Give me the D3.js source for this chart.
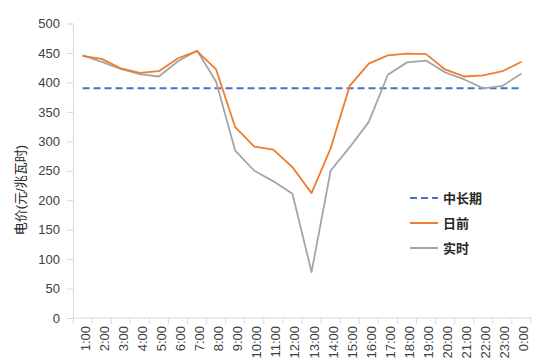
<!DOCTYPE html>
<html>
<head>
<meta charset="utf-8">
<script src="https://cdn.jsdelivr.net/npm/d3@7"></script>
<style>
  body { margin: 0; background: #fff; }
  svg { display: block; font-family: "Liberation Sans", Arial, "Noto Sans CJK SC", sans-serif; }
</style>
</head>
<body>
<div id="chart"></div>
<script>
// hourly price data
const hours = ["1:00","2:00","3:00","4:00","5:00","6:00","7:00","8:00","9:00","10:00","11:00","12:00",
  "13:00","14:00","15:00","16:00","17:00","18:00","19:00","20:00","21:00","22:00","23:00","0:00"];
const midLong = 390;
const dayAhead = [445,440,424,416,419,441,453,422,324,291,286,256,212,288,394,432,446,449,448,422,410,412,419,435];
const realTime = [446,435,423,414,410,436,454,401,284,250,232,211,78,250,290,333,413,434,437,417,405,390,394,415];
const yTicks = [0,50,100,150,200,250,300,350,400,450,500];

const series = [
  {name: "中长期", color: "#4472C4", dash: "7,4"},
  {name: "日前", color: "#ED7D31"},
  {name: "实时", color: "#A5A5A5"}
];

const width = 553, height = 363;
const margin = {top: 23.5, right: 22, bottom: 45, left: 73};

const svg = d3.select("#chart").append("svg")
  .attr("width", width).attr("height", height);

const x = d3.scaleBand().domain(hours)
  .range([margin.left, width - margin.right]);
const y = d3.scaleLinear().domain([0, 500])
  .range([height - margin.bottom, margin.top]);

// y axis
const yAxis = svg.append("g")
  .attr("transform", `translate(${margin.left},0)`)
  .call(d3.axisLeft(y).tickValues(yTicks).tickSize(6).tickPadding(7));
yAxis.select(".domain").attr("stroke", "#D9D9D9");
yAxis.selectAll(".tick line").attr("stroke", "#D9D9D9");
yAxis.selectAll("text").attr("font-size", 13).attr("fill", "#404040");

// x axis, ticks on band boundaries
const xAxis = svg.append("g")
  .attr("transform", `translate(0,${y(0)})`);
xAxis.append("line")
  .attr("x1", margin.left).attr("x2", width - margin.right)
  .attr("stroke", "#D9D9D9");
const bounds = hours.map(h => x(h)).concat([x(hours[hours.length - 1]) + x.bandwidth()]);
xAxis.selectAll(".tk").data(bounds).enter().append("line")
  .attr("x1", d => d).attr("x2", d => d)
  .attr("y1", 0).attr("y2", 6)
  .attr("stroke", "#D9D9D9");
xAxis.selectAll("text").data(hours).enter().append("text")
  .attr("transform", d => `translate(${x(d) + x.bandwidth() / 2 + 7},8) rotate(-90)`)
  .attr("text-anchor", "end")
  .attr("font-size", 13)
  .attr("fill", "#404040")
  .text(d => d);

// y label
svg.append("text")
  .attr("transform", "translate(25,190) rotate(-90)")
  .attr("text-anchor", "middle")
  .attr("font-size", 13)
  .attr("fill", "#262626")
  .text("电价(元/兆瓦时)");

const cx = d => x(d) + x.bandwidth() / 2;

// 中长期 dashed line
svg.append("line")
  .attr("x1", cx(hours[0])).attr("x2", cx(hours[hours.length - 1]))
  .attr("y1", y(midLong)).attr("y2", y(midLong))
  .attr("stroke", series[0].color)
  .attr("stroke-width", 2)
  .attr("stroke-dasharray", series[0].dash);

const line = d3.line()
  .x((d, i) => cx(hours[i]))
  .y(d => y(d));

svg.append("path").datum(realTime)
  .attr("d", line).attr("fill", "none")
  .attr("stroke", series[2].color).attr("stroke-width", 1.8)
  .attr("stroke-linejoin", "round");

svg.append("path").datum(dayAhead)
  .attr("d", line).attr("fill", "none")
  .attr("stroke", series[1].color).attr("stroke-width", 1.8)
  .attr("stroke-linejoin", "round");

// legend
const legend = svg.append("g").attr("transform", "translate(410,198)");
series.forEach((s, i) => {
  const g = legend.append("g").attr("transform", `translate(0,${i * 25})`);
  g.append("line")
    .attr("x1", 0).attr("x2", 28)
    .attr("stroke", s.color)
    .attr("stroke-width", 2)
    .attr("stroke-dasharray", s.dash || null);
  g.append("text")
    .attr("x", 33).attr("y", 5)
    .attr("font-size", 13)
    .attr("font-weight", "bold")
    .attr("fill", "#262626")
    .text(s.name);
});
</script>
</body>
</html>
